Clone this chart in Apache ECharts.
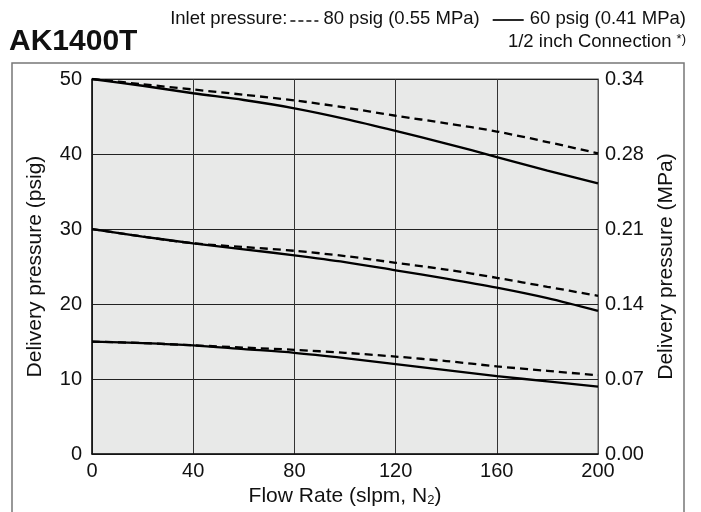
<!DOCTYPE html>
<html><head><meta charset="utf-8">
<script src="https://cdn.jsdelivr.net/npm/echarts@6/dist/echarts.min.js"></script>
<style>html,body{margin:0;padding:0;background:#fff}#c{width:701px;height:512px}</style>
</head><body><div id="c"></div>
<script>
// ---- data ----
const flowRate = [0, 20, 40, 60, 80, 100, 120, 140, 160, 180, 200];
// Inlet 80 psig (0.55 MPa) – dashed
const inlet80_set50 = [50, 49.3, 48.6, 47.9, 47.15, 46.2, 45.1, 44.1, 43.0, 41.6, 40.1];
const inlet80_set30 = [30, 29.0, 28.1, 27.6, 27.1, 26.4, 25.5, 24.6, 23.5, 22.3, 21.1];
const inlet80_set15 = [15, 14.8, 14.5, 14.2, 13.9, 13.5, 13.0, 12.4, 11.7, 11.1, 10.5];
// Inlet 60 psig (0.41 MPa) – solid
const inlet60_set50 = [50, 49.1, 48.1, 47.2, 46.1, 44.7, 43.1, 41.4, 39.6, 37.8, 36.1];
const inlet60_set30 = [30, 29.0, 28.1, 27.3, 26.5, 25.6, 24.5, 23.4, 22.2, 20.8, 19.1];
const inlet60_set15 = [15, 14.8, 14.5, 14.0, 13.5, 12.8, 12.0, 11.2, 10.4, 9.7, 9.0];
const rightTickLabels = ['0.00', '0.07', '0.14', '0.21', '0.28', '0.34'];
const legendNames = ['80 psig (0.55 MPa)', '60 psig (0.41 MPa)'];

const FONT = '"Liberation Sans", Arial, Helvetica, sans-serif';
const chart = echarts.init(document.getElementById('c'), null, {renderer: 'canvas'});

function pairs(arr) { return flowRate.map((x, i) => [x, arr[i]]); }
function mk(name, arr, dashed) {
  return {
    type: 'line', name: name, data: pairs(arr), smooth: 0.3, showSymbol: false, symbol: 'none',
    lineStyle: {color: '#000', width: 2.3, type: dashed ? [8, 5] : 'solid'},
    z: dashed ? 3 : 4, animation: false
  };
}

// legend layout (text measured)
const ctx = document.createElement('canvas').getContext('2d');
const LFS = 18.5;
const LFONT = LFS + 'px ' + FONT;
function tw(t) { ctx.font = LFONT; return ctx.measureText(t).width; }
const rightEdge = 686;
const t3 = legendNames[1], t2 = legendNames[0], t1 = 'Inlet pressure:';
const x3 = rightEdge - tw(t3);
const solidEnd = x3 - 6, solidStart = solidEnd - 31;
const x2 = solidStart - 13 - tw(t2);
const dashEnd = x2 - 5, dashStart = dashEnd - 28;
const x1 = dashStart - 3 - tw(t1);
const ly = 19;

const TICK = 20, NAMEFS = 21;
const option = {
  backgroundColor: '#fff',
  animation: false,
  grid: {left: 92, right: 103, top: 79, bottom: 56, show: true, backgroundColor: '#e8e9e8', borderColor: '#555', borderWidth: 1},
  xAxis: {
    type: 'value', min: 0, max: 200, interval: 40,
    name: 'Flow Rate (slpm, N{sub|2})', nameLocation: 'middle', nameGap: 30,
    nameTextStyle: {color: '#111', fontSize: NAMEFS, fontFamily: FONT, rich: {sub: {fontSize: 13, verticalAlign: 'bottom', padding: [8, 0, 0, 0], fontFamily: FONT, color: '#111'}}},
    axisLine: {lineStyle: {color: '#111', width: 1.5}},
    axisTick: {show: false},
    axisLabel: {color: '#111', fontSize: TICK, fontFamily: FONT, margin: 7},
    splitLine: {lineStyle: {color: '#333', width: 1}}
  },
  yAxis: [{
    type: 'value', min: 0, max: 50, interval: 10, position: 'left',
    name: 'Delivery pressure (psig)', nameLocation: 'middle', nameGap: 46,
    nameTextStyle: {color: '#111', fontSize: NAMEFS, fontFamily: FONT},
    axisLine: {show: true, lineStyle: {color: '#111', width: 1.5}},
    axisTick: {show: false},
    axisLabel: {color: '#111', fontSize: TICK, fontFamily: FONT, margin: 10},
    splitLine: {lineStyle: {color: '#222', width: 1}}
  }, {
    type: 'value', min: 0, max: 50, interval: 10, position: 'right',
    name: 'Delivery pressure (MPa)', nameLocation: 'middle', nameGap: 58,
    nameTextStyle: {color: '#111', fontSize: NAMEFS, fontFamily: FONT},
    axisLine: {show: true, lineStyle: {color: '#555', width: 1}},
    axisTick: {show: false},
    axisLabel: {color: '#111', fontSize: TICK, fontFamily: FONT, margin: 7,
      formatter: function (v) { return rightTickLabels[Math.round(v / 10)]; }},
    splitLine: {show: false}
  }],
  series: [
    mk(legendNames[0], inlet80_set50, true),
    mk(legendNames[0], inlet80_set30, true),
    mk(legendNames[0], inlet80_set15, true),
    mk(legendNames[1], inlet60_set50, false),
    mk(legendNames[1], inlet60_set30, false),
    mk(legendNames[1], inlet60_set15, false)
  ],
  graphic: [
    {type: 'rect', shape: {x: 12, y: 63, width: 672, height: 470}, style: {fill: 'none', stroke: '#777', lineWidth: 1.5}, z: -10, silent: true},
    {type: 'text', x: 9, y: 42, style: {text: 'AK1400T', font: 'bold 30px ' + FONT, fill: '#111', textVerticalAlign: 'middle'}},
    {type: 'text', x: x1, y: ly, style: {text: t1, font: LFONT, fill: '#111', textVerticalAlign: 'middle'}},
    {type: 'line', shape: {x1: dashStart, y1: ly + 2, x2: dashEnd, y2: ly + 2}, style: {stroke: '#111', lineWidth: 1.6, lineDash: [5, 3]}},
    {type: 'text', x: x2, y: ly, style: {text: t2, font: LFONT, fill: '#111', textVerticalAlign: 'middle'}},
    {type: 'line', shape: {x1: solidStart, y1: ly + 1, x2: solidEnd, y2: ly + 1}, style: {stroke: '#111', lineWidth: 1.8}},
    {type: 'text', x: x3, y: ly, style: {text: t3, font: LFONT, fill: '#111', textVerticalAlign: 'middle'}},
    {type: 'text', x: rightEdge, y: 42, style: {
      text: '1/2 inch Connection {s|*)}', font: LFONT, fill: '#111', textAlign: 'right', textVerticalAlign: 'middle',
      rich: {s: {fontSize: 13, fontFamily: FONT, fill: '#111', verticalAlign: 'top', padding: [0, 0, 4, 0]}}
    }}
  ]
};
chart.setOption(option);
</script>
</body></html>
